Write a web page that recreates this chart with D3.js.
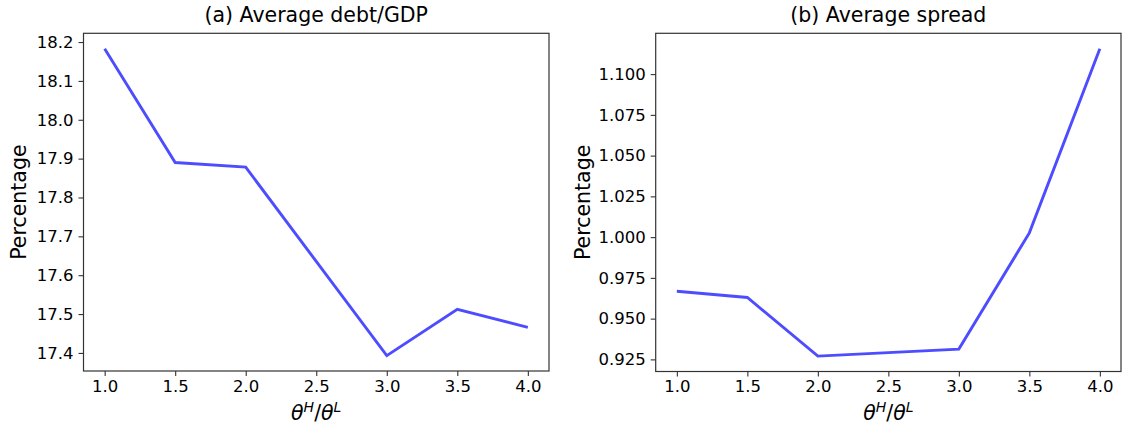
<!DOCTYPE html>
<html><head><meta charset="utf-8">
<script src="https://cdn.jsdelivr.net/npm/d3@7"></script>
<style>
body{margin:0;background:#fff;}
text{font-family:"DejaVu Sans",sans-serif;fill:#000;}
</style></head>
<body><svg id="c" width="1122" height="427"></svg>
<script>
const ratios = [1.0, 1.5, 2.0, 3.0, 3.5, 4.0];
const debtGDP = [18.183, 17.890, 17.878, 17.393, 17.512, 17.466];
const spread = [0.9668, 0.963, 0.927, 0.9313, 1.0026, 1.1156];
const xTicks = [1.0, 1.5, 2.0, 2.5, 3.0, 3.5, 4.0];
const debtTicks = [17.4, 17.5, 17.6, 17.7, 17.8, 17.9, 18.0, 18.1, 18.2];
const spreadTicks = [0.925, 0.95, 0.975, 1.0, 1.025, 1.05, 1.075, 1.1];
const titles = ["(a) Average debt/GDP", "(b) Average spread"];

const svg = d3.select("#c");
const panels = [
  {left:83.5, right:549, top:33.3, bottom:371, vals:debtGDP, ticks:debtTicks, fmt:d3.format(".1f"), title:titles[0], ylabX:19},
  {left:655.7, right:1121, top:33.3, bottom:371.5, vals:spread, ticks:spreadTicks, fmt:d3.format(".3f"), title:titles[1], ylabX:583}
];

panels.forEach(p => {
  const xmin = d3.min(ratios), xmax = d3.max(ratios), xm = (xmax-xmin)*0.05;
  const ymin = d3.min(p.vals), ymax = d3.max(p.vals), ym = (ymax-ymin)*0.05;
  const x = d3.scaleLinear().domain([xmin-xm, xmax+xm]).range([p.left, p.right]);
  const y = d3.scaleLinear().domain([ymin-ym, ymax+ym]).range([p.bottom, p.top]);
  const g = svg.append("g");

  const xa = g.append("g").attr("transform",`translate(0,${p.bottom})`)
    .call(d3.axisBottom(x).tickValues(xTicks).tickFormat(d3.format(".1f")).tickSizeOuter(0).tickSize(5).tickPadding(4));
  const ya = g.append("g").attr("transform",`translate(${p.left},0)`)
    .call(d3.axisLeft(y).tickValues(p.ticks).tickFormat(p.fmt).tickSizeOuter(0).tickSize(5).tickPadding(5));
  [xa, ya].forEach(a => {
    a.select(".domain").remove();
    a.selectAll(".tick line").attr("stroke","#333").attr("stroke-width",1.1);
    a.selectAll(".tick text").style("font-size","16.5px").attr("fill","#000");
  });

  g.append("path")
    .datum(ratios.map((r,i)=>[r,p.vals[i]]))
    .attr("fill","none").attr("stroke","#4d4dff").attr("stroke-width",2.9)
    .attr("d", d3.line().x(d=>x(d[0])).y(d=>y(d[1])));

  g.append("rect").attr("x",p.left).attr("y",p.top).attr("width",p.right-p.left).attr("height",p.bottom-p.top)
    .attr("fill","none").attr("stroke","#333").attr("stroke-width",1.2);

  g.append("text").attr("x",(p.left+p.right)/2).attr("y",p.top-11).attr("text-anchor","middle")
    .style("font-size","20.5px").text(p.title);

  const xl = g.append("text").attr("x",(p.left+p.right)/2).attr("y",420).attr("text-anchor","middle")
    .style("font-size","20.5px");
  xl.append("tspan").style("font-style","italic").text("θ");
  xl.append("tspan").attr("dy",-8).style("font-size","14px").style("font-style","italic").text("H");
  xl.append("tspan").attr("dy",8).text("/");
  xl.append("tspan").style("font-style","italic").text("θ");
  xl.append("tspan").attr("dy",-8).style("font-size","14px").style("font-style","italic").text("L");

  g.append("text").attr("transform",`translate(${p.ylabX},${(p.top+p.bottom)/2}) rotate(-90)`)
    .attr("text-anchor","middle").attr("dominant-baseline","central")
    .style("font-size","20.5px").text("Percentage");
});
</script></body></html>
